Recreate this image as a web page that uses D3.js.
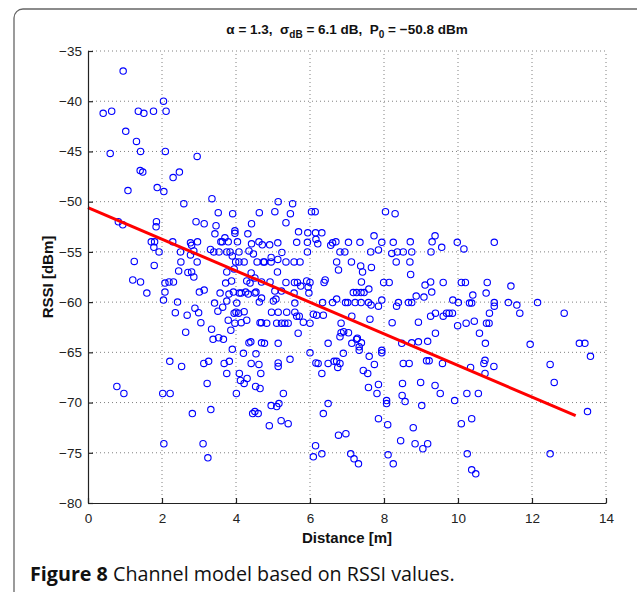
<!DOCTYPE html>
<html><head><meta charset="utf-8">
<script src="https://cdn.jsdelivr.net/npm/d3@7"></script>
<style>body{margin:0;background:#fff}svg{display:block}text{white-space:pre}</style>
</head><body>
<script>
const xTicks = [0,2,4,6,8,10,12,14];
const yTicks = [-80,-75,-70,-65,-60,-55,-50,-45,-40,-35];
const fitDistance = [0, 13.18];
const fitRssi = [-50.6, -71.3];
const xLabel = "Distance [m]";
const yLabel = "RSSI [dBm]";
const captionBold = "Figure 8";
const captionRest = " Channel model based on RSSI values.";
// measured samples [distance m, RSSI dBm]
const measurements = [
[0.95,-37.0],[2.04,-40.0],[0.41,-41.2],[0.64,-41.0],[1.36,-41.0],[1.51,-41.2],[1.77,-41.0],[2.11,-41.0],[1.02,-43.0],[1.31,-44.0],[0.60,-45.2],[1.42,-45.0],[2.09,-45.0],[2.95,-45.5],[1.41,-46.9],[1.48,-47.05],[2.47,-47.05],[2.30,-47.6],[1.08,-48.9],[1.87,-48.6],[2.05,-49.0],[2.59,-50.2],[3.35,-49.7],[3.52,-51.1],[3.91,-51.2],[4.63,-51.1],[0.82,-52.0],[0.94,-52.3],[1.85,-52.0],[1.84,-52.5],[2.92,-52.0],[3.14,-52.2],[3.46,-52.4],[3.43,-53.2],[3.97,-52.9],[3.97,-53.15],[4.42,-52.2],[4.32,-53.2],[3.70,-53.6],[1.71,-54.0],[1.80,-54.0],[1.78,-54.55],[1.92,-55.0],[2.29,-54.0],[2.77,-54.1],[2.80,-54.35],[2.96,-54.0],[2.50,-55.0],[2.86,-54.9],[2.77,-55.3],[3.31,-54.75],[3.40,-55.0],[3.59,-54.0],[3.63,-54.0],[3.79,-54.0],[4.04,-54.0],[3.54,-55.0],[3.75,-55.0],[3.84,-55.0],[4.08,-55.0],[3.90,-55.4],[4.35,-54.9],[4.42,-54.2],[4.62,-54.0],[4.47,-55.2],[1.25,-55.95],[1.79,-56.35],[2.51,-56.0],[2.95,-56.0],[3.99,-56.0],[4.08,-56.0],[4.22,-56.0],[4.57,-56.0],[4.74,-56.0],[3.95,-56.7],
[1.21,-57.8],[1.42,-58.0],[1.59,-59.1],[2.08,-58.1],[2.19,-58.0],[2.31,-58.0],[2.08,-59.0],[2.04,-59.8],[2.45,-56.9],[2.70,-57.05],[2.80,-57.0],[2.86,-57.5],[2.42,-60.0],[2.36,-61.05],[2.68,-61.3],[2.89,-60.6],[2.99,-61.05],[3.05,-62.05],[2.64,-63.0],[3.01,-59.0],[3.14,-58.8],[3.42,-60.1],[3.57,-59.1],[3.51,-60.9],[3.64,-60.5],[3.75,-59.9],[3.81,-59.2],[3.72,-58.1],[3.75,-57.0],[3.93,-59.0],[4.09,-59.1],[4.14,-59.1],[4.26,-59.0],[4.33,-59.2],[4.02,-60.1],[4.00,-61.0],[3.95,-61.1],[4.07,-61.1],[4.22,-60.95],[4.29,-61.8],[4.14,-62.05],[3.97,-62.1],[3.79,-61.8],[3.86,-62.8],[3.34,-62.7],[3.38,-63.7],[3.53,-63.55],[3.66,-63.7],[3.90,-64.7],[4.20,-65.1],[4.40,-63.95],[4.35,-64.05],[4.69,-64.05],[4.54,-65.15],[4.41,-66.1],[4.62,-66.2],[4.67,-67.1],[4.30,-67.6],[4.09,-67.1],[4.12,-67.8],[4.22,-68.1],[3.75,-67.1],[3.68,-66.1],[3.82,-65.9],[3.13,-66.1],[3.26,-65.9],[2.21,-65.9],[2.53,-66.4],[3.22,-68.1],[0.78,-68.4],[0.97,-69.1],[2.02,-69.1],[2.22,-69.1],[4.01,-69.1],[4.53,-68.4],[4.65,-68.6],[2.82,-71.1],[3.32,-70.7],[4.45,-71.1],[4.60,-71.1],[2.05,-74.1],[3.11,-74.1],[3.24,-75.5],[4.69,-62.05],[4.54,-59.0],[4.41,-57.1],[4.29,-57.9],[4.38,-58.1],[3.88,-57.9],
[5.14,-50.0],[5.53,-50.2],[5.05,-51.0],[5.47,-51.2],[5.35,-52.1],[6.04,-51.0],[6.14,-51.0],[8.04,-51.0],[8.30,-51.2],[5.69,-53.0],[5.94,-53.1],[6.15,-53.1],[6.32,-53.1],[6.16,-53.75],[6.21,-54.2],[7.73,-53.4],[8.71,-54.0],[9.30,-54.0],[9.38,-53.4],[4.71,-54.3],[4.91,-54.3],[5.13,-54.1],[5.64,-54.05],[5.93,-54.05],[6.61,-54.1],[6.70,-54.0],[6.56,-54.35],[7.04,-54.05],[7.35,-54.05],[7.94,-54.05],[8.25,-54.05],[5.93,-55.0],[5.24,-55.05],[6.81,-55.0],[6.94,-55.0],[7.64,-55.0],[7.85,-54.8],[8.21,-55.15],[8.36,-55.0],[8.52,-55.0],[8.75,-55.0],[9.27,-55.0],[4.77,-56.0],[4.95,-55.55],[4.95,-56.0],[5.13,-55.75],[5.35,-56.0],[5.57,-56.0],[5.73,-56.0],[6.72,-56.0],[6.77,-56.8],[7.12,-56.0],[7.37,-56.4],[7.42,-57.0],[7.66,-56.55],[8.33,-56.0],[8.70,-56.0],[8.72,-57.25],[5.12,-57.0],[4.51,-57.6],[4.69,-58.0],[4.92,-58.0],[5.35,-58.05],[5.58,-58.05],[5.66,-58.05],[5.91,-57.9],[6.00,-58.05],[5.95,-58.5],[6.41,-57.8],[6.38,-58.05],[7.39,-58.0],[7.99,-58.05],[8.14,-58.05],[9.26,-58.0],[9.11,-58.3],[4.51,-59.1],[4.69,-59.6],[4.63,-60.0],[5.05,-58.9],[5.23,-58.9],[5.08,-59.7],[5.57,-59.1],[5.75,-58.4],[5.97,-59.1],[5.01,-59.9],[5.59,-60.1],[6.34,-60.05],[6.72,-59.7],[6.61,-60.05],[6.96,-60.05],[7.02,-60.05],[7.17,-59.05],[7.26,-59.05],[7.38,-59.05],[7.46,-59.05],[7.59,-58.7],[7.22,-60.05],[7.38,-60.05],[7.58,-60.05],[7.65,-60.3],[7.85,-60.4],[7.94,-59.8],[8.39,-60.05],[8.34,-60.4],[8.66,-60.05],[8.75,-60.05],[8.87,-59.4],[9.08,-59.5],[9.29,-59.0],[4.96,-61.0],[5.14,-61.0],[5.37,-61.0],[5.59,-61.0],[5.64,-61.4],[5.71,-61.4],[5.82,-62.0],[6.00,-62.1],[6.09,-61.2],[6.18,-61.3],[6.36,-61.3],[4.65,-62.05],[4.83,-62.1],[5.10,-62.1],[5.23,-62.1],[5.32,-62.1],[5.41,-62.1],[5.68,-63.1],[6.84,-62.1],[6.84,-63.05],[6.91,-62.95],[7.04,-63.05],[7.13,-61.4],[7.62,-61.7],[8.22,-62.05],[8.93,-62.0],[9.26,-61.4],[7.28,-63.6],
[7.26,-63.7],[7.39,-64.05],[7.33,-64.45],[7.33,-64.8],[7.13,-64.1],[4.77,-64.1],[5.14,-64.1],[5.14,-66.05],[5.14,-66.4],[5.46,-65.7],[6.00,-65.05],[6.16,-66.05],[6.22,-66.1],[6.49,-66.1],[6.65,-65.9],[6.72,-65.9],[6.81,-66.1],[6.75,-66.5],[6.32,-67.1],[6.49,-64.1],[6.90,-65.1],[6.81,-63.45],[7.60,-65.4],[7.74,-66.2],[7.94,-64.8],[7.94,-65.05],[7.44,-66.8],[7.56,-67.1],[7.58,-68.5],[7.85,-68.2],[7.81,-69.1],[5.28,-69.1],[4.95,-70.3],[5.10,-70.4],[5.16,-70.1],[4.51,-70.9],[5.22,-71.8],[5.41,-72.1],[4.90,-72.3],[6.49,-70.1],[6.36,-71.1],[6.77,-73.25],[6.97,-73.1],[6.15,-74.3],[6.09,-75.4],[6.32,-75.1],[7.10,-75.1],[7.19,-75.6],[7.31,-76.1],[8.07,-69.8],[8.07,-70.1],[7.85,-71.6],[8.10,-72.2],[8.11,-75.2],[8.25,-76.1],[8.48,-64.1],[8.68,-66.1],[8.52,-66.1],[8.75,-64.05],[8.93,-63.95],[9.18,-63.9],[9.15,-65.85],[9.22,-65.85],[8.50,-68.1],[8.99,-68.0],[9.38,-68.3],[8.49,-69.3],[8.57,-69.9],[9.02,-70.3],[8.79,-72.5],[8.45,-73.8],[8.84,-74.1],[9.05,-74.6],[9.18,-74.1],
[9.56,-54.55],[9.98,-54.05],[10.16,-54.7],[10.98,-54.05],[9.60,-58.05],[10.09,-58.05],[10.20,-58.05],[10.79,-58.05],[11.43,-58.4],[9.86,-59.8],[10.01,-60.05],[10.31,-60.1],[10.37,-60.1],[10.40,-59.3],[10.76,-59.1],[10.98,-60.05],[10.98,-60.4],[11.36,-60.05],[11.59,-60.3],[11.67,-61.1],[12.15,-60.05],[9.39,-61.1],[9.60,-61.4],[9.69,-61.1],[9.76,-61.1],[9.85,-61.1],[10.85,-61.1],[10.77,-62.1],[10.84,-62.1],[10.44,-61.9],[10.22,-62.1],[9.99,-62.35],[12.87,-61.1],[9.39,-63.1],[10.58,-63.1],[10.74,-64.1],[11.95,-64.2],[13.28,-64.1],[13.43,-64.1],[13.58,-65.4],[9.58,-66.1],[10.34,-66.5],[10.73,-65.8],[10.70,-66.1],[10.97,-66.4],[10.73,-67.1],[12.49,-66.2],[12.60,-68.0],[9.52,-69.1],[9.91,-69.8],[10.24,-69.1],[10.55,-69.1],[13.50,-70.9],[10.09,-72.1],[10.37,-71.6],[10.25,-75.1],[12.49,-75.1],[10.37,-76.7],[10.48,-77.1]
];

const W = 637, H = 592;
const svg = d3.select("body").append("svg").attr("width", W).attr("height", H);
svg.append("rect").attr("width", W).attr("height", H).attr("fill", "#fff");
// figure frame
svg.append("rect").attr("x", 14).attr("y", 9).attr("width", 700).attr("height", 700)
  .attr("rx", 9).attr("fill", "none").attr("stroke", "#666").attr("stroke-width", 1.3);

const x = d3.scaleLinear().domain([0, 14]).range([88, 606]);
const y = d3.scaleLinear().domain([-80, -35]).range([503, 51]);

const font = "'Liberation Sans', Arial, sans-serif";
// grid
const grid = svg.append("g").attr("stroke", "#808080").attr("stroke-width", 1).attr("stroke-dasharray", "1,3");
xTicks.filter(t => t > 0).forEach(t => grid.append("line").attr("x1", x(t)).attr("x2", x(t)).attr("y1", y(-80)).attr("y2", y(-35)));
yTicks.filter(t => t > -80).forEach(t => grid.append("line").attr("y1", y(t)).attr("y2", y(t)).attr("x1", x(0)).attr("x2", x(14)));

// points
svg.append("g").selectAll("circle").data(measurements).join("circle")
  .attr("cx", d => x(d[0])).attr("cy", d => y(d[1])).attr("r", 3.2)
  .attr("fill", "none").attr("stroke", "#0000ff").attr("stroke-width", 1.1);

// fit line
svg.append("line").attr("x1", x(fitDistance[0])).attr("y1", y(fitRssi[0]))
  .attr("x2", x(fitDistance[1])).attr("y2", y(fitRssi[1]))
  .attr("stroke", "#ff0000").attr("stroke-width", 3);

// axes
const xAxis = d3.axisBottom(x).tickValues(xTicks).tickSizeInner(-5).tickSizeOuter(0).tickPadding(10).tickFormat(d3.format("d"));
const yAxis = d3.axisLeft(y).tickValues(yTicks).tickSizeInner(-5).tickSizeOuter(0).tickPadding(10).tickFormat(d => d3.format("d")(d).replace("-", "\u2212"));
const gx = svg.append("g").attr("transform", `translate(0,${y(-80)})`).call(xAxis);
const gy = svg.append("g").attr("transform", `translate(${x(0)},0)`).call(yAxis);
[gx, gy].forEach(g => {
  g.select(".domain").attr("stroke", "#222").attr("stroke-width", 1.2);
  g.selectAll(".tick line").attr("stroke", "#222").attr("stroke-width", 1.2);
  g.selectAll(".tick text").attr("font-family", font).attr("font-size", 13.5).attr("fill", "#222");
});
gy.selectAll(".tick text").attr("dx", 4);

// title
const title = svg.append("text").attr("x", (x(0) + x(14)) / 2).attr("y", 34)
  .attr("text-anchor", "middle").attr("font-family", font).attr("font-size", 13.5).attr("font-weight", "bold").attr("fill", "#111");
title.append("tspan").text("\u03b1 = 1.3,  \u03c3");
title.append("tspan").attr("dy", 4).attr("font-size", 10).text("dB");
title.append("tspan").attr("dy", -4).text(" = 6.1 dB,  P");
title.append("tspan").attr("dy", 4).attr("font-size", 10).text("0");
title.append("tspan").attr("dy", -4).text(" = \u221250.8 dBm");

svg.append("text").attr("x", (x(0) + x(14)) / 2).attr("y", 543).attr("text-anchor", "middle")
  .attr("font-family", font).attr("font-size", 15).attr("font-weight", "bold").attr("fill", "#111").text(xLabel);
svg.append("text").attr("transform", `translate(53,${(y(-80) + y(-35)) / 2}) rotate(-90)`).attr("text-anchor", "middle")
  .attr("font-family", font).attr("font-size", 15).attr("font-weight", "bold").attr("fill", "#111").text(yLabel);

// caption
const cap = svg.append("text").attr("x", 30).attr("y", 581).attr("font-family", "'Open Sans', 'Noto Sans', sans-serif")
  .attr("font-size", 18).attr("fill", "#111");
cap.append("tspan").attr("font-weight", "bold").text(captionBold);
cap.append("tspan").text(captionRest);
const cw = cap.node().getComputedTextLength();
cap.attr("font-size", 18 * 425 / cw);
</script>
</body></html>
